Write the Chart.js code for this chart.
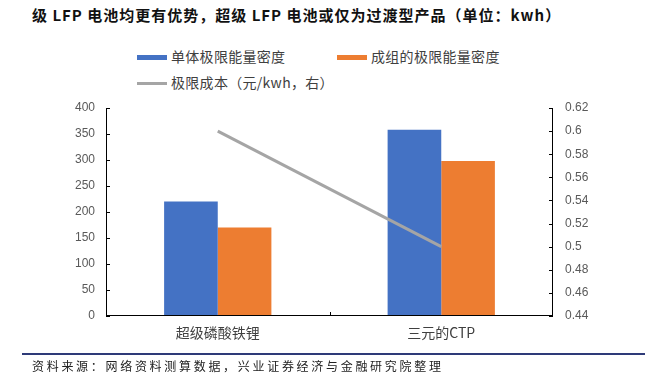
<!DOCTYPE html>
<html>
<head>
<meta charset="utf-8">
<script src="https://cdn.jsdelivr.net/npm/chart.js@4.4.0/dist/chart.umd.min.js"></script>
<style>
  html, body { margin: 0; padding: 0; background: #fff; }
  #wrap { position: relative; width: 645px; height: 377px; overflow: hidden; font-family: "Noto Sans CJK SC", sans-serif; }
  #chart { position: absolute; left: 0; top: 0; }
  .title { position: absolute; left: 32px; top: 4px; font-size: 15px; font-weight: bold; color: #111; white-space: nowrap; letter-spacing: 1px; }
  .lg { position: absolute; font-size: 14px; color: #404040; white-space: nowrap; line-height: 18px; letter-spacing: 0.3px; }
  .sw { display: inline-block; width: 30px; height: 5px; vertical-align: middle; margin-right: 4px; position: relative; top: -1px; }
  .rule { position: absolute; left: 22px; right: 0; top: 353px; height: 2px; background: #2e3a78; }
  .src { position: absolute; left: 32px; top: 357px; font-size: 12px; color: #222; white-space: nowrap; letter-spacing: 2.7px; }
</style>
</head>
<body>
<div id="wrap">
  <div class="title">级 LFP 电池均更有优势，超级 LFP 电池或仅为过渡型产品（单位：kwh）</div>
  <div class="lg" style="left:137px; top:47px;"><span class="sw" style="background:#4472C4"></span>单体极限能量密度</div>
  <div class="lg" style="left:337px; top:47px;"><span class="sw" style="background:#ED7D31"></span>成组的极限能量密度</div>
  <div class="lg" style="left:137px; top:73px;"><span class="sw" style="background:#A5A5A5; height:3px;"></span>极限成本（元/kwh，右）</div>
  <canvas id="chart" width="645" height="377"></canvas>
  <div class="rule"></div>
  <div class="src">资料来源：网络资料测算数据，兴业证券经济与金融研究院整理</div>
</div>
<script>
const categories = ["超级磷酸铁锂", "三元的CTP"]
const cellDensity = [220, 358]
const packDensity = [170, 298]
const costPerKwh = [0.6, 0.5]

// axis lines + inward ticks, like the office chart
const axisPlugin = {
  id: "axisLines",
  afterDatasetsDraw(chart) {
    const { ctx, chartArea: { left, right, top, bottom } } = chart
    const yl = chart.scales.y, yr = chart.scales.y1, x = chart.scales.x
    ctx.save()
    ctx.strokeStyle = "#000"
    ctx.lineWidth = 1
    ctx.beginPath()
    ctx.moveTo(left + 0.5, top); ctx.lineTo(left + 0.5, bottom)
    ctx.moveTo(right - 0.5, top); ctx.lineTo(right - 0.5, bottom)
    ctx.moveTo(left, bottom - 0.5); ctx.lineTo(right, bottom - 0.5)
    yl.ticks.forEach(t => {
      const py = Math.round(yl.getPixelForValue(t.value)) + 0.5
      ctx.moveTo(left, py); ctx.lineTo(left + 4, py)
    })
    yr.ticks.forEach(t => {
      const py = Math.round(yr.getPixelForValue(t.value)) + 0.5
      ctx.moveTo(right, py); ctx.lineTo(right - 4, py)
    })
    const mid = Math.round((x.getPixelForValue(0) + x.getPixelForValue(1)) / 2) + 0.5
    ctx.moveTo(mid, bottom); ctx.lineTo(mid, bottom - 4)
    ctx.stroke()
    ctx.restore()
  }
}

const tickFont = { family: "Liberation Sans, Arial, sans-serif", size: 12 }

new Chart(document.getElementById("chart"), {
  data: {
    labels: categories,
    datasets: [
      { type: "line", label: "极限成本（元/kwh，右）", data: costPerKwh, yAxisID: "y1",
        borderColor: "#A5A5A5", borderWidth: 3, pointRadius: 0, order: 0 },
      { type: "bar", label: "单体极限能量密度", data: cellDensity, yAxisID: "y",
        backgroundColor: "#4472C4", categoryPercentage: 0.48, barPercentage: 1, order: 1 },
      { type: "bar", label: "成组的极限能量密度", data: packDensity, yAxisID: "y",
        backgroundColor: "#ED7D31", categoryPercentage: 0.48, barPercentage: 1, order: 1 }
    ]
  },
  options: {
    responsive: false,
    animation: false,
    layout: { padding: { top: 108, left: 0, right: 0, bottom: 0 } },
    plugins: { legend: { display: false }, tooltip: { enabled: false } },
    scales: {
      x: {
        grid: { display: false, drawTicks: false },
        border: { display: false },
        ticks: { color: "#404040", font: { family: "Noto Sans CJK SC", size: 14 }, padding: 8 },
        afterFit(s) { s.height = 61 }
      },
      y: {
        position: "left", min: 0, max: 400,
        grid: { display: false, drawTicks: false },
        border: { display: false },
        ticks: { stepSize: 50, color: "#595959", font: tickFont, padding: 11 },
        afterFit(s) { s.width = 106 }
      },
      y1: {
        position: "right", min: 0.44, max: 0.62,
        grid: { display: false, drawTicks: false },
        border: { display: false },
        ticks: { stepSize: 0.02, color: "#595959", font: tickFont, padding: 12,
          callback: v => String(Math.round(v * 100) / 100) },
        afterFit(s) { s.width = 92 }
      }
    }
  },
  plugins: [axisPlugin]
})
</script>
</body>
</html>
